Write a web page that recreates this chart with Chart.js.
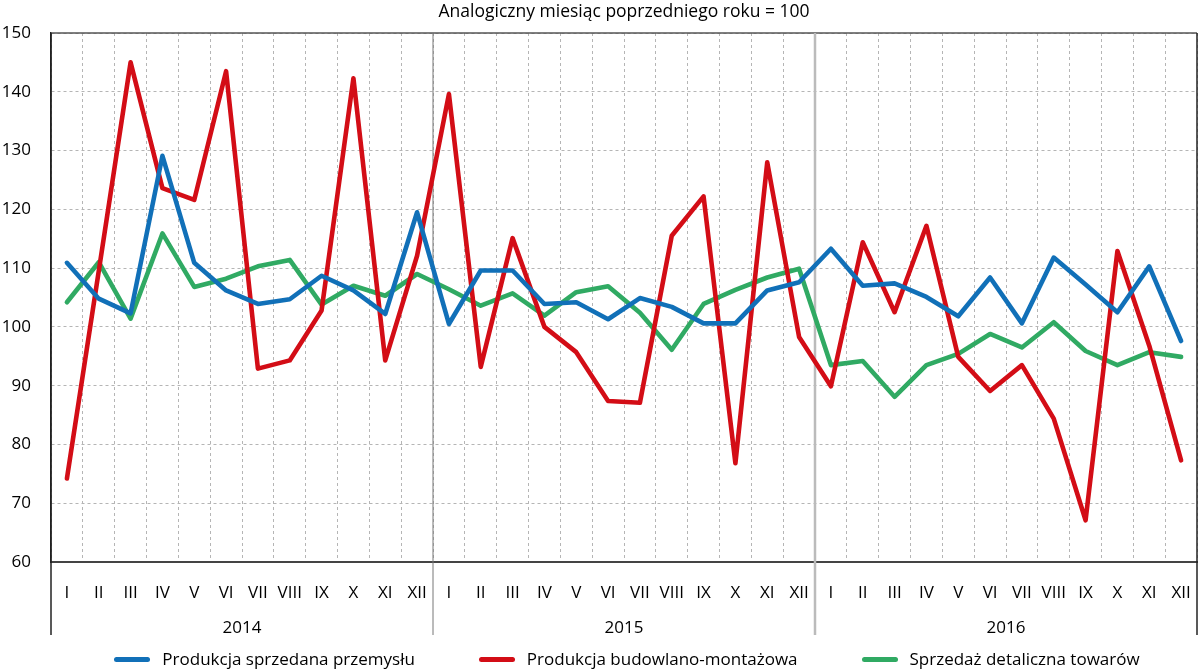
<!DOCTYPE html>
<html lang="pl">
<head>
<meta charset="utf-8">
<title>Produkcja i sprzedaż</title>
<script src="https://cdn.jsdelivr.net/npm/chart.js@4.4.1/dist/chart.umd.min.js"></script>
<style>
  html, body { margin: 0; padding: 0; background: #fff; }
  #wrap { position: relative; width: 1200px; height: 672px; }
  #legenda {
    position: absolute; left: 0; top: 648px; width: 1200px; box-sizing: border-box;
    padding-left: 54px; display: flex; justify-content: center; gap: 64px;
    font: 17px "Open Sans", sans-serif; line-height: 22px; color: #000;
  }
  #legenda .poz { display: flex; align-items: center; white-space: nowrap; }
  #legenda .znak { display: inline-block; width: 36px; height: 5px; border-radius: 3px; margin-right: 12px; }
</style>
</head>
<body>
<div id="wrap">
  <canvas id="wykres" width="1200" height="672"></canvas>
  <div id="legenda"></div>
</div>
<script>
const miesiace = ['I', 'II', 'III', 'IV', 'V', 'VI', 'VII', 'VIII', 'IX', 'X', 'XI', 'XII'];
const lata = ['2014', '2015', '2016'];

// analogiczny miesiąc poprzedniego roku = 100
const produkcjaSprzedana = [
  110.9, 104.8, 102.3, 129.1, 110.9, 106.2, 103.9, 104.7, 108.7, 106.2, 102.2, 119.5,
  100.5, 109.6, 109.6, 103.9, 104.2, 101.3, 104.9, 103.4, 100.6, 100.6, 106.2, 107.6,
  113.3, 107.0, 107.4, 105.1, 101.8, 108.4, 100.6, 111.8, 107.2, 102.5, 110.3, 97.6
];
const produkcjaBudowlana = [
  74.2, 109.5, 145.0, 123.6, 121.6, 143.5, 92.9, 94.3, 102.8, 142.3, 94.3, 112.1,
  139.6, 93.2, 115.1, 100.0, 95.7, 87.4, 87.1, 115.5, 122.2, 76.8, 128.0, 98.3,
  89.9, 114.4, 102.5, 117.2, 94.9, 89.1, 93.5, 84.4, 67.1, 112.9, 96.8, 77.3
];
const sprzedazDetaliczna = [
  104.2, 111.0, 101.4, 115.9, 106.8, 108.2, 110.3, 111.4, 103.8, 107.0, 105.3, 109.0,
  106.4, 103.6, 105.7, 101.9, 105.9, 106.9, 102.4, 96.1, 103.9, 106.3, 108.4, 109.9,
  93.5, 94.2, 88.1, 93.5, 95.4, 98.8, 96.5, 100.8, 95.9, 93.5, 95.7, 94.9
];

const etykiety = lata.flatMap(() => miesiace);
const czcionka = { family: '"Open Sans", sans-serif', size: 17 };

function seria(nazwa, dane, kolor) {
  return {
    label: nazwa,
    data: dane,
    borderColor: kolor,
    backgroundColor: kolor,
    borderWidth: 4.6,
    pointRadius: 0,
    tension: 0,
    borderJoinStyle: 'round',
    borderCapStyle: 'round'
  };
}

// ramka wykresu i pionowe linie oddzielające lata
const ramka = {
  id: 'ramka',
  beforeDatasetsDraw(chart) {
    const { ctx, chartArea, scales } = chart;
    const dol = scales.lata.bottom;
    const linia = (x1, y1, x2, y2, kolor, grubosc) => {
      ctx.strokeStyle = kolor;
      ctx.lineWidth = grubosc;
      ctx.beginPath();
      ctx.moveTo(x1, y1);
      ctx.lineTo(x2, y2);
      ctx.stroke();
    };
    ctx.save();
    linia(chartArea.left, chartArea.top, chartArea.right, chartArea.top, '#555', 1.5);
    const sep = [['#777', 1], ['#bbb', 2.5]];
    for (let i = 1; i < lata.length; i++) {
      const px = (scales.x.getPixelForValue(i * 12 - 1) + scales.x.getPixelForValue(i * 12)) / 2;
      linia(px, chartArea.top, px, dol, sep[i - 1][0], sep[i - 1][1]);
    }
    linia(chartArea.left, chartArea.top, chartArea.left, dol, '#222', 1.5);
    linia(chartArea.right, chartArea.top, chartArea.right, dol, '#222', 1.5);
    ctx.restore();
  }
};

const wykres = new Chart(document.getElementById('wykres'), {
  type: 'line',
  data: {
    labels: etykiety,
    datasets: [
      seria('Produkcja sprzedana przemysłu', produkcjaSprzedana, '#1170b8'),
      seria('Produkcja budowlano-montażowa', produkcjaBudowlana, '#d30d16'),
      seria('Sprzedaż detaliczna towarów', sprzedazDetaliczna, '#30aa63')
    ]
  },
  options: {
    responsive: false,
    animation: false,
    layout: { padding: { left: 0, right: 3, top: 0, bottom: 37 } },
    scales: {
      x: {
        type: 'category',
        offset: true,
        grid: { offset: true, color: '#b5b5b5', lineWidth: 1, drawTicks: true, tickLength: 21, tickColor: 'rgba(0,0,0,0)' },
        border: { display: true, color: '#444', width: 2, dash: [3, 3] },
        ticks: { color: '#000', font: czcionka, padding: 0, autoSkip: false, maxRotation: 0 },
        afterFit: (s) => { s.height = 40; }
      },
      lata: {
        type: 'category',
        position: 'bottom',
        labels: lata,
        offset: true,
        grid: { display: false, drawTicks: true, tickLength: 16 },
        border: { display: false },
        ticks: { color: '#000', font: czcionka, padding: 0, maxRotation: 0 },
        afterFit: (s) => { s.height = 33; }
      },
      y: {
        min: 60,
        max: 150,
        ticks: { stepSize: 10, color: '#000', font: czcionka, padding: 20 },
        grid: { color: '#b5b5b5', lineWidth: 1, drawTicks: false },
        border: { display: true, color: '#222', width: 1.5, dash: [3, 3] },
        afterFit: (s) => { s.width = 51; }
      }
    },
    plugins: {
      title: {
        display: true,
        fullSize: false,
        text: 'Analogiczny miesiąc poprzedniego roku = 100',
        color: '#000',
        font: { family: czcionka.family, size: 17.5, weight: 'normal', lineHeight: 1.2 },
        padding: { top: 2, bottom: 10 }
      },
      legend: { display: false },
      tooltip: { enabled: false }
    }
  },
  plugins: [ramka]
});

// legenda pod wykresem
const legenda = document.getElementById('legenda');
wykres.data.datasets.forEach(d => {
  const poz = document.createElement('span');
  poz.className = 'poz';
  poz.innerHTML = `<span class="znak" style="background:${d.borderColor}"></span>${d.label}`;
  legenda.appendChild(poz);
});
</script>
</body>
</html>
